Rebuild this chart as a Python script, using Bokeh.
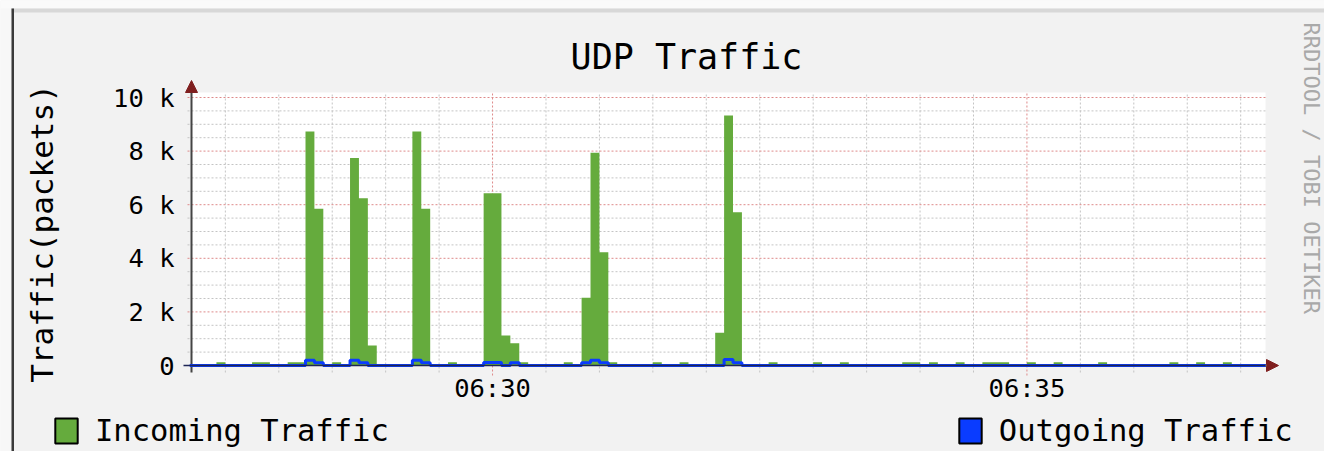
import numpy as np
from bokeh.plotting import figure
from bokeh.models import (Arrow, NormalHead, Legend, LegendItem, ColumnDataSource, Range1d)
from bokeh.core.properties import value
from bokeh.embed import file_html
from bokeh.resources import INLINE

# ---------------- data ----------------
TITLE = "UDP Traffic"
Y_LABEL = "Traffic(packets)"
WATERMARK = "RRDTOOL / TOBI OETIKER"
SERIES = ["Incoming Traffic", "Outgoing Traffic"]

START = 6 * 3600 + 27 * 60 + 10   # 06:27:10, seconds of day
STEP = 5                           # seconds per sample

incoming = [
    0, 0, 0, 120, 0, 0, 0, 120, 120, 0,              # 0-9
    0, 120, 120, 8730, 5850, 0, 120, 0, 7740, 6240,  # 10-19
    750, 0, 0, 0, 0, 8730, 5850, 0, 0, 120,          # 20-29
    0, 0, 0, 6430, 6430, 1120, 830, 120, 0, 0,       # 30-39
    0, 0, 120, 0, 2530, 7940, 4230, 120, 0, 0,       # 40-49
    0, 0, 120, 0, 0, 120, 0, 0, 0, 1220,             # 50-59
    9330, 5720, 0, 0, 0, 120, 0, 0, 0, 0,            # 60-69
    120, 0, 0, 120, 0, 0, 0, 0, 0, 0,                # 70-79
    120, 120, 0, 120, 0, 0, 120, 0, 0, 120,          # 80-89
    120, 120, 0, 0, 120, 0, 0, 120, 0, 0,            # 90-99
    0, 0, 120, 0, 0, 0, 0, 0, 0, 0,                  # 100-109
    120, 0, 0, 120, 0, 0, 120, 0, 0, 0,              # 110-119
    0,                                               # 120
]
outgoing = [
    0, 0, 0, 0, 0, 0, 0, 0, 0, 0,
    0, 0, 0, 200, 100, 0, 0, 0, 200, 100,
    0, 0, 0, 0, 0, 200, 100, 0, 0, 0,
    0, 0, 0, 110, 110, 0, 100, 0, 0, 0,
    0, 0, 0, 0, 100, 200, 100, 0, 0, 0,
    0, 0, 0, 0, 0, 0, 0, 0, 0, 0,
    220, 100, 0, 0, 0, 0, 0, 0, 0, 0,
    0, 0, 0, 0, 0, 0, 0, 0, 0, 0,
    0, 0, 0, 0, 0, 0, 0, 0, 0, 0,
    0, 0, 0, 0, 0, 0, 0, 0, 0, 0,
    0, 0, 0, 0, 0, 0, 0, 0, 0, 0,
    0, 0, 0, 0, 0, 0, 0, 0, 0, 0,
    0,
]

x_ticks = [23400, 23700]
x_tick_labels = ["06:30", "06:35"]
y_ticks = [0, 2000, 4000, 6000, 8000, 10000]
y_tick_labels = ["0", "2 k", "4 k", "6 k", "8 k", "10 k"]

# ---------------- style / layout ----------------
MONO = "DejaVu Sans Mono"
GREEN = "#65AB3D"
BLUE = "#0A3CFF"
ARROW_C = "#7F1F1F"
MAJ_GRID = "#DE8A8A"
MIN_GRID = "#C4C4C4"
BACK = "#F2F2F2"

W, H = 1324, 451
AXIS_X_PX, AXIS_Y_PX = 191, 365       # page pixel where the axes cross
CANVAS_R_PX, CANVAS_T_PX = 1265, 92   # white canvas extent
PX_PER_S = 1.7813
PX_PER_UNIT = 0.0268
X_START = 23231                        # time at the y axis


def X(px):
    return X_START + (px - AXIS_X_PX) / PX_PER_S


def Y(py):
    return (AXIS_Y_PX - py) / PX_PER_UNIT


X_CANVAS_END = X(CANVAS_R_PX)
Y_CANVAS_TOP = Y(CANVAS_T_PX)

times = START + STEP * np.arange(len(incoming) + 1)
src = ColumnDataSource(dict(
    t=times,
    zero=np.zeros(len(times)),
    inc=np.array(incoming + [incoming[-1]], dtype=float),
    out=np.array(outgoing + [outgoing[-1]], dtype=float),
))

p = figure(width=W, height=H, output_backend="svg", toolbar_location=None,
           title=None, x_axis_location=None, y_axis_location=None,
           x_range=Range1d(X(0), X(W)), y_range=Range1d(Y(H), Y(0)),
           min_border=0, background_fill_color=BACK, border_fill_color=BACK,
           outline_line_color=None)
p.grid.visible = False

# page frame of the original image
p.quad(left=[X(0)], right=[X(11)], bottom=[Y(H)], top=[Y(0)], fill_color="#F7F7F7", line_color=None)
p.quad(left=[X(0)], right=[X(W)], bottom=[Y(8)], top=[Y(0)], fill_color="#FAFAFA", line_color=None)
p.quad(left=[X(11)], right=[X(W)], bottom=[Y(12)], top=[Y(8)], fill_color="#D8D8D8", line_color=None)
p.quad(left=[X(11)], right=[X(13.5)], bottom=[Y(H)], top=[Y(8)], fill_color="#3A3A3A", line_color=None)

# white canvas
p.quad(left=[X_START], right=[X_CANVAS_END], bottom=[0], top=[Y_CANVAS_TOP],
       fill_color="white", line_color=None)

# grid (from tick lists)
x_minor = [v for v in range(23250, int(X_CANVAS_END), 30) if v not in x_ticks]
y_minor = [v for v in range(0, 10001, 500) if v not in y_ticks]
p.segment(x0=x_minor, x1=x_minor, y0=[Y(372)] * len(x_minor),
          y1=[Y_CANVAS_TOP] * len(x_minor),
          line_color=MIN_GRID, line_dash="2 2", line_width=1)
p.segment(x0=[X(187)] * len(y_minor), x1=[X_CANVAS_END] * len(y_minor),
          y0=y_minor, y1=y_minor, line_color=MIN_GRID, line_dash="2 2", line_width=1)
p.segment(x0=x_ticks, x1=x_ticks, y0=[Y(375)] * len(x_ticks),
          y1=[Y_CANVAS_TOP] * len(x_ticks),
          line_color=MAJ_GRID, line_dash="2 2", line_width=1)
p.segment(x0=[X(187)] * len(y_ticks), x1=[X_CANVAS_END] * len(y_ticks),
          y0=y_ticks, y1=y_ticks, line_color=MAJ_GRID, line_dash="2 2", line_width=1)

# data
p.varea_step(x="t", y1="zero", y2="inc", step_mode="after", source=src,
             fill_color=GREEN, fill_alpha=1.0)

# y axis line
p.segment(x0=[X_START], x1=[X_START], y0=[Y(372)], y1=[Y_CANVAS_TOP],
          line_color="#444444", line_width=2)

p.step(x="t", y="out", mode="after", source=src, line_color=BLUE, line_width=3)

# x axis line (over the outgoing line, giving the dark blue baseline)
p.segment(x0=[X(183)], x1=[X(1266)], y0=[0], y1=[0], line_color="#1E2656", line_width=1.5)

# arrow heads
p.add_layout(Arrow(end=NormalHead(size=12, fill_color=ARROW_C, line_color=ARROW_C),
                   x_start=X(1265), y_start=0, x_end=X(1278), y_end=0,
                   line_color="#777777", line_width=2))
p.add_layout(Arrow(end=NormalHead(size=12, fill_color=ARROW_C, line_color=ARROW_C),
                   x_start=X_START, y_start=Y_CANVAS_TOP, x_end=X_START, y_end=Y(80),
                   line_color="#444444", line_width=2))

# tick labels
p.text(x=[X(174)] * len(y_ticks), y=y_ticks, text=y_tick_labels,
       text_align="right", text_baseline="middle",
       text_font=value(MONO), text_font_size=value("25.5px"), text_color="black")
p.text(x=x_ticks, y=[Y(387)] * len(x_ticks), text=x_tick_labels,
       text_align="center", text_baseline="middle",
       text_font=value(MONO), text_font_size=value("25.5px"), text_color="black")

# axis title, title, watermark
p.text(x=[X(41)], y=[Y(233)], text=[Y_LABEL], angle=np.pi / 2,
       text_align="center", text_baseline="middle",
       text_font=value(MONO), text_font_size=value("31px"), text_color="black")
p.text(x=[X(686)], y=[Y(56)], text=[TITLE],
       text_align="center", text_baseline="alphabetic",
       text_font=value(MONO), text_font_size=value("35px"), text_color="black")
p.text(x=[X(1311)], y=[Y(22)], text=[WATERMARK], angle=-np.pi / 2,
       text_align="left", text_baseline="middle",
       text_font=value(MONO), text_font_size=value("22px"), text_color="#A9A9A9")

# legend (swatch renderers kept off-canvas; only their legend glyphs show)
r_in = p.quad(left=[X(-60)], right=[X(-50)], top=[Y(-50)], bottom=[Y(-60)],
              fill_color=GREEN, line_color="black", line_width=2)
r_out = p.quad(left=[X(-60)], right=[X(-50)], top=[Y(-50)], bottom=[Y(-60)],
               fill_color=BLUE, line_color="black", line_width=2)
leg = Legend(items=[LegendItem(label=SERIES[0], renderers=[r_in]),
                    LegendItem(label=SERIES[1], renderers=[r_out])],
             location=(52, 3), orientation="horizontal",
             padding=0, margin=0, spacing=567,
             border_line_color=None, background_fill_alpha=0,
             glyph_width=28, glyph_height=31, label_standoff=15,
             label_text_font=MONO, label_text_font_size="30.5px",
             label_text_color="black")
p.add_layout(leg)

open("out.html", "w").write(file_html(p, INLINE))
